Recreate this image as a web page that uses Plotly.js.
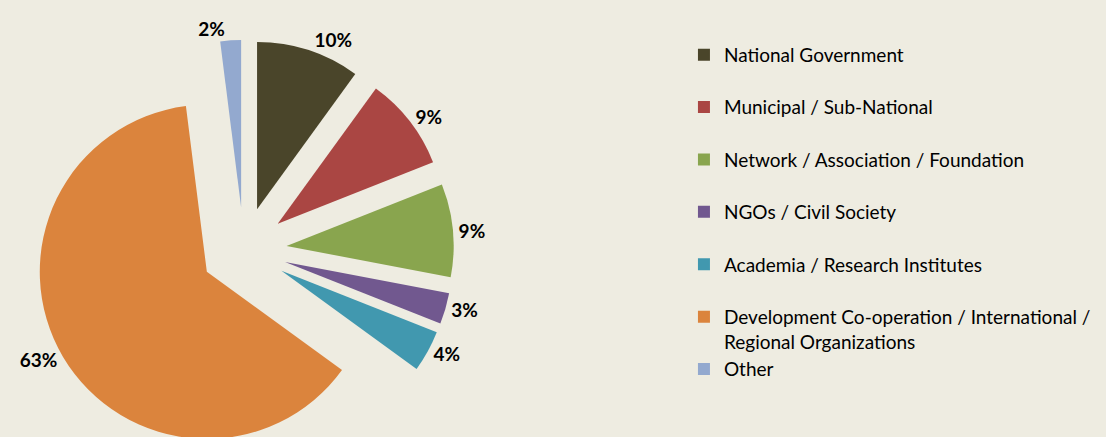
<!DOCTYPE html>
<html><head><meta charset="utf-8">
<script src="https://cdn.plot.ly/plotly-3.0.1.min.js"></script>
<style>html,body{margin:0;padding:0;width:1106px;height:437px;overflow:hidden;background:#EEECE1}</style>
</head><body><div id="chart" style="width:1106px;height:475px"></div>
<script>
const categories = [
  'National Government',
  'Municipal / Sub-National',
  'Network / Association / Foundation',
  'NGOs / Civil Society',
  'Academia / Research Institutes',
  'Development Co-operation / International /<br>Regional Organizations',
  'Other'
];
const shares = [10, 9, 9, 3, 4, 63, 2];
const sliceColors = ['#4A452A', '#AA4643', '#89A54E', '#71588F', '#4198AF', '#DB843D', '#93A9CF'];

const legendLabels = categories.map(c => c.indexOf('<br>') >= 0 ? c : c + '<br>\u00a0');

const trace = {
  type: 'pie',
  labels: legendLabels,
  values: shares,
  sort: false,
  direction: 'clockwise',
  rotation: 0,
  pull: 0.257,
  marker: {colors: sliceColors, line: {width: 0}},
  texttemplate: '%{percent:.0%}',
  textposition: 'outside',
  textfont: {family: 'Lato, Carlito, sans-serif', size: 19, color: '#000', weight: 'bold'},
  domain: {x: [0.03056, 0.41031], y: [0, 1]},
  hoverinfo: 'none'
};

const layout = {
  width: 1106, height: 475,
  margin: {l: 0, r: 0, t: 40, b: 15},
  paper_bgcolor: '#EEECE1',
  plot_bgcolor: '#EEECE1',
  showlegend: true,
  legend: {
    x: 0.6184, xanchor: 'left',
    y: 1.01, yanchor: 'top',
    valign: 'top',
    maxheight: 470,
    bgcolor: 'rgba(0,0,0,0)',
    font: {family: 'Lato, Carlito, sans-serif', size: 19, color: '#000'}
  }
};

Plotly.newPlot('chart', [trace], layout, {displayModeBar: false, staticPlot: true});
</script></body></html>
